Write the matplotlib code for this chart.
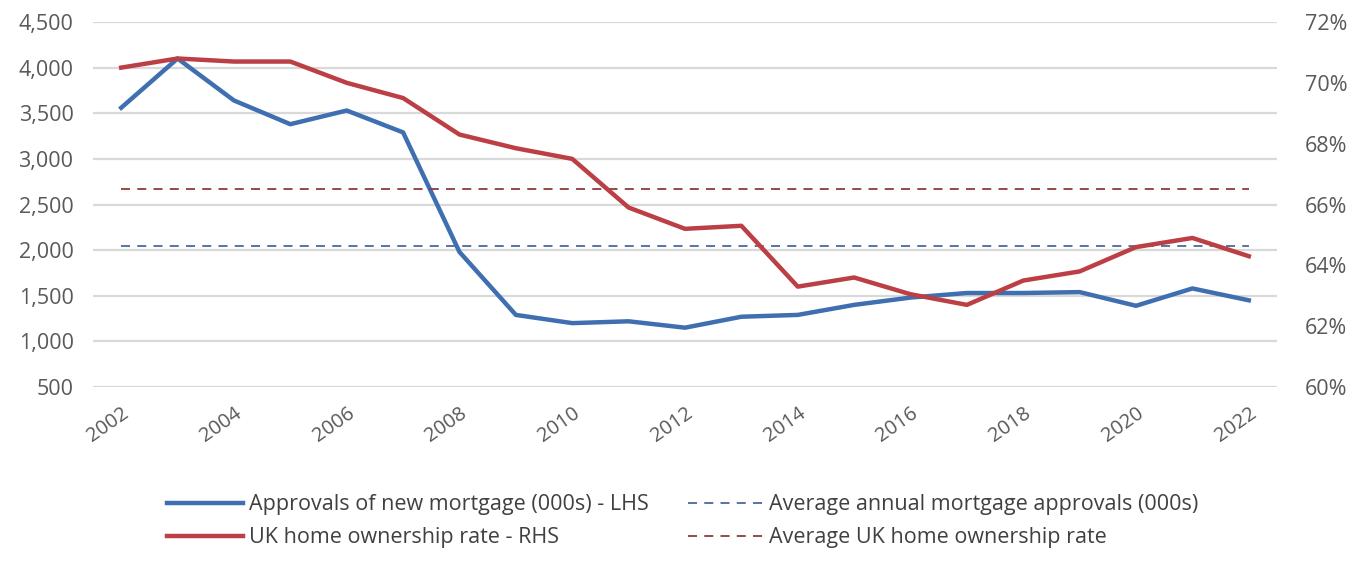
import matplotlib
matplotlib.use("Agg")
import matplotlib.pyplot as plt
from matplotlib.ticker import FuncFormatter

# data
years = list(range(2002, 2023))
approvals = [3560, 4100, 3640, 3380, 3530, 3290, 1980, 1290, 1200, 1220, 1150,
             1270, 1290, 1400, 1480, 1530, 1530, 1540, 1390, 1580, 1450]
ownership = [70.5, 70.8, 70.7, 70.7, 70.0, 69.5, 68.3, 67.85, 67.5, 65.9, 65.2,
             65.3, 63.3, 63.6, 63.05, 62.7, 63.5, 63.8, 64.6, 64.9, 64.3]
avg_approvals = 2045
avg_ownership = 66.5

left_ticks = [500, 1000, 1500, 2000, 2500, 3000, 3500, 4000, 4500]
right_ticks = [60, 62, 64, 66, 68, 70, 72]
x_ticks = years[::2]

blue = '#3f6fb0'
red = '#bb3f45'
text_col = '#595959'

plt.rcParams['font.family'] = ['Open Sans', 'DejaVu Sans']

fig = plt.figure(figsize=(13.66, 5.62), dpi=100)
ax = fig.add_axes([93 / 1366, 1 - 387 / 562, (1277 - 93) / 1366, 365 / 562])
ax2 = ax.twinx()

# gridlines on the left axis
ax.set_ylim(500, 4500)
ax.set_yticks(left_ticks)
ax.grid(axis='y', color='#d9d9d9', linewidth=1.6)
ax.set_axisbelow(True)
ax2.set_ylim(60, 72)
ax2.set_yticks(right_ticks)

l1, = ax.plot(years, approvals, color=blue, linewidth=3.2, solid_joinstyle='round',
              label='Approvals of new mortgage (000s) - LHS', zorder=3)
l3, = ax.plot(years, [avg_approvals] * len(years), color='#4a6a9c', linewidth=1.3,
              dashes=(5, 4), label='Average annual mortgage approvals (000s)', zorder=2)
l2, = ax2.plot(years, ownership, color=red, linewidth=3.2, solid_joinstyle='round',
               label='UK home ownership rate - RHS', zorder=3)
l4, = ax2.plot(years, [avg_ownership] * len(years), color='#8e3a3e', linewidth=1.3,
               dashes=(5, 4), label='Average UK home ownership rate', zorder=2)

ax.set_xlim(2001.5, 2022.5)
ax.set_xticks(x_ticks)
ax.set_xticklabels([str(y) for y in x_ticks], rotation=35, ha='right',
                   rotation_mode='anchor', color=text_col)

ax.yaxis.set_major_formatter(FuncFormatter(lambda v, p: f'{int(v):,}'))
ax2.yaxis.set_major_formatter(FuncFormatter(lambda v, p: f'{int(v)}%'))

for a in (ax, ax2):
    for s in a.spines.values():
        s.set_visible(False)
    a.tick_params(length=0, labelsize=15.5, labelcolor=text_col)
ax.tick_params(axis='y', pad=14)
ax.tick_params(axis='x', pad=12, labelsize=14.5)
ax2.tick_params(axis='y', pad=20)

fig.legend(handles=[l1, l2, l3, l4], loc='upper center', bbox_to_anchor=(0.5, 1 - 475 / 562),
           ncol=2, frameon=False, fontsize=15.5, handlelength=3.5, handletextpad=0.3,
           columnspacing=1.8, labelspacing=0.55, labelcolor='#404040')

fig.savefig('out.png', dpi=100, facecolor='white')
